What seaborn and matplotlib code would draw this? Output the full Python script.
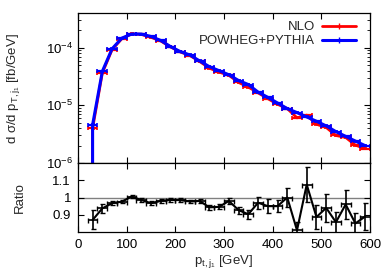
import matplotlib
matplotlib.use("Agg")
import matplotlib.pyplot as plt
import seaborn as sns
import pandas as pd
from matplotlib.lines import Line2D
from matplotlib.ticker import LogLocator, NullFormatter, FixedLocator, FixedFormatter

# bin centres (20 GeV bins), first bin empty
pt = [10, 30, 50, 70, 90, 110, 130, 150, 170, 190, 210, 230, 250, 270, 290,
      310, 330, 350, 370, 390, 410, 430, 450, 470, 490, 510, 530, 550, 570, 590]

powheg = [0, 4.6e-6, 3.9e-5, 9.6e-5, 1.47e-4, 1.73e-4, 1.73e-4, 1.57e-4, 1.34e-4,
          1.05e-4, 8.6e-5, 7.5e-5, 5.9e-5, 4.7e-5, 4.0e-5, 3.4e-5, 2.7e-5, 2.3e-5,
          1.7e-5, 1.38e-5, 1.1e-5, 8.8e-6, 7.5e-6, 6.3e-6, 5.3e-6, 4.4e-6, 3.5e-6,
          2.9e-6, 2.4e-6, 2.0e-6]

nlo = [0, 4.0e-6, 3.65e-5, 9.28e-5, 1.435e-4, 1.739e-4, 1.706e-4, 1.518e-4, 1.313e-4,
       1.035e-4, 8.47e-5, 7.33e-5, 5.78e-5, 4.43e-5, 3.78e-5, 3.33e-5, 2.5e-5, 2.08e-5,
       1.65e-5, 1.31e-5, 1.045e-5, 8.8e-6, 6.08e-6, 6.77e-6, 4.7e-6, 4.14e-6, 3.0e-6,
       2.78e-6, 2.04e-6, 1.78e-6]

ratio = [0.87, 0.937, 0.967, 0.976, 1.005, 0.986, 0.967, 0.98, 0.986, 0.985, 0.977,
         0.98, 0.943, 0.946, 0.98, 0.927, 0.903, 0.97, 0.95, 0.95, 1.0, 0.81, 1.075,
         0.887, 0.94, 0.857, 0.96, 0.85, 0.89]
ratio_err = [0.055, 0.024, 0.01, 0.01, 0.01, 0.01, 0.01, 0.01, 0.01, 0.01, 0.01,
             0.012, 0.015, 0.015, 0.02, 0.02, 0.025, 0.035, 0.04, 0.035, 0.055, 0.05,
             0.1, 0.07, 0.08, 0.06, 0.085, 0.06, 0.08]

sns.set_style("ticks")
plt.rcParams['font.family'] = ['Liberation Sans', 'DejaVu Sans']
plt.rcParams['mathtext.fontset'] = 'custom'
plt.rcParams['mathtext.rm'] = 'Liberation Sans'
plt.rcParams['mathtext.it'] = 'Liberation Sans:italic'
fs = 9.5

fig = plt.figure(figsize=(3.9, 2.73), dpi=100)
ax = fig.add_axes([0.2, 0.403, 0.7487, 0.549])
rax = fig.add_axes([0.2, 0.150, 0.7487, 0.253])

df = pd.DataFrame({'pt': pt, 'NLO': nlo, 'POWHEG': powheg})
sns.lineplot(data=df, x='pt', y='NLO', color='#ff0000', linewidth=2.0, ax=ax, errorbar=None)
ax.errorbar(pt[1:], nlo[1:], xerr=10, yerr=[v * 0.02 for v in nlo[1:]], fmt='none',
            ecolor='#ff0000', elinewidth=1.6, capsize=1.5, capthick=1.2)
sns.lineplot(data=df, x='pt', y='POWHEG', color='#0000ff', linewidth=2.2, ax=ax, errorbar=None)
ax.errorbar(pt[1:], powheg[1:], xerr=10, yerr=[v * 0.02 for v in powheg[1:]], fmt='none',
            ecolor='#0000ff', elinewidth=1.6, capsize=1.5, capthick=1.2)
ax.set_yscale('log')
ax.set_xlim(0, 600)
ax.set_ylim(1e-6, 4e-4)
ax.yaxis.set_major_locator(FixedLocator([1e-6, 1e-5, 1e-4]))
ax.yaxis.set_major_formatter(FixedFormatter([r'10$^{-6}$', r'10$^{-5}$', r'10$^{-4}$']))
ax.yaxis.set_minor_locator(LogLocator(base=10, subs=range(2, 10)))
ax.yaxis.set_minor_formatter(NullFormatter())
ax.set_xticks([0, 100, 200, 300, 400, 500, 600])
ax.tick_params(which='both', direction='in', top=True, right=True, labelbottom=False,
               labelsize=fs, colors='black')
ax.tick_params(which='major', length=4, width=0.8)
ax.tick_params(which='minor', length=2, width=0.6)
ax.set_xlabel('')
ax.set_ylabel(r'd σ/d p$_{\mathregular{T,j_1}}$ [fb/GeV]', fontsize=fs)
ax.yaxis.set_label_coords(-0.192, 0.5)

handles = [Line2D([], [], color='#ff0000', lw=2.0, marker='|', ms=4),
           Line2D([], [], color='#0000ff', lw=2.2, marker='|', ms=4)]
ax.legend(handles, ['NLO', 'POWHEG+PYTHIA'], loc='upper right', bbox_to_anchor=(0.98, 1.0),
          frameon=False, markerfirst=False, fontsize=fs, handlelength=2.6,
          handletextpad=0.5, labelspacing=0.15, borderaxespad=0.2)

sns.lineplot(x=pt[1:], y=ratio, color='black', linewidth=1.5, ax=rax, errorbar=None)
rax.errorbar(pt[1:], ratio, xerr=10, yerr=ratio_err, fmt='none', ecolor='black',
             elinewidth=1.2, capsize=1.8, capthick=1.0)
rax.axhline(1.0, color='gray', lw=1.0, zorder=0)
rax.set_xlim(0, 600)
rax.set_ylim(0.8, 1.2)
rax.set_yticks([0.9, 1.0, 1.1])
rax.set_yticklabels(['0.9', '1', '1.1'])
rax.set_xticks([0, 100, 200, 300, 400, 500, 600])
rax.tick_params(which='both', direction='in', top=True, right=True, labelsize=fs,
                length=4, width=0.8, colors='black', pad=5)
rax.set_ylabel('Ratio', fontsize=fs)
rax.yaxis.set_label_coords(-0.18, 0.5)
rax.set_xlabel(r'p$_{\mathregular{t,j_1}}$ [GeV]', fontsize=fs)
rax.xaxis.set_label_coords(0.5, -0.30)

for a in (ax, rax):
    for s in a.spines.values():
        s.set_color('black')
        s.set_linewidth(0.9)

fig.savefig('out.png', dpi=100)
